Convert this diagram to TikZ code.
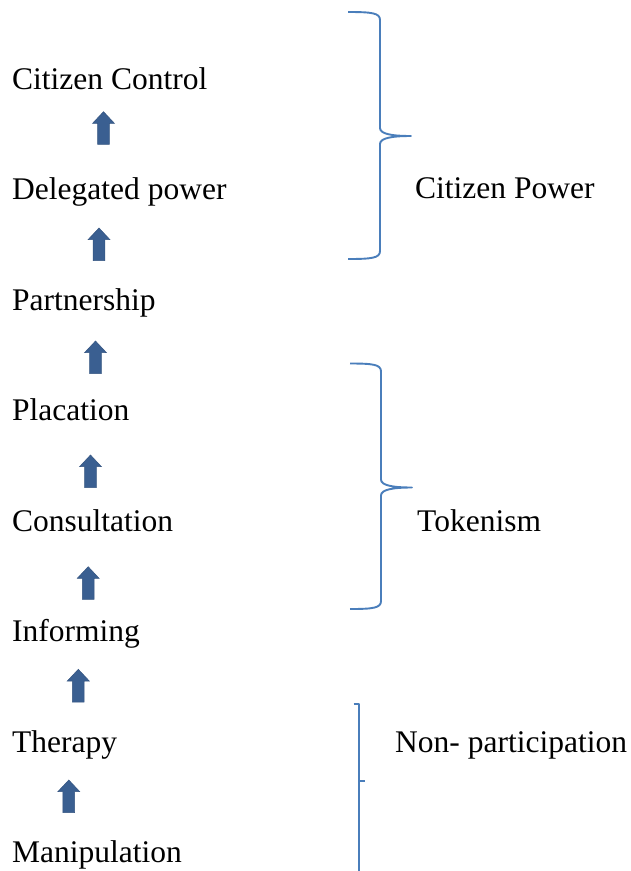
\documentclass[tikz,border=0pt]{standalone}
\usepackage{fontspec}
\setmainfont{Liberation Serif}
\definecolor{bracecol}{RGB}{74,126,187}
\definecolor{arrowfill}{RGB}{58,95,145}
\definecolor{arrowedge}{RGB}{52,84,128}
\begin{document}
\begin{tikzpicture}[x=1pt,y=-1pt,
  rowtext/.style={anchor=base west,inner sep=0pt,font=\fontsize{31.5}{36}\selectfont},
  bracepath/.style={draw=bracecol,line width=1.9pt,line join=round},
  uparrow/.pic={\filldraw[fill=arrowfill,draw=arrowedge,line width=0.5pt]
     (-5.85,0) -- (-5.85,-21) -- (-11,-21) -- (0,-32.7) -- (11,-21) -- (5.85,-21) -- (5.85,0) -- cycle;}
]
\useasboundingbox (0,0) rectangle (631,871);
% rungs
\node[rowtext] (cc) at (12,89) {Citizen Control};
\node[rowtext] (dp) at (12,199.5) {Delegated power};
\node[rowtext] (pa) at (12,310) {Partnership};
\node[rowtext] (pl) at (12,420) {Placation};
\node[rowtext] (co) at (12,531) {Consultation};
\node[rowtext] (in) at (12,641.5) {Informing};
\node[rowtext] (th) at (12,752) {Therapy};
\node[rowtext] (ma) at (12,862.5) {Manipulation};
% arrows (bottom centre positions)
\pic at (103.5,144.4) {uparrow};
\pic at (99,260.7) {uparrow};
\pic at (95.5,373.7) {uparrow};
\pic at (90.5,487.7) {uparrow};
\pic at (88.2,599.4) {uparrow};
\pic at (78.3,702) {uparrow};
\pic at (68.8,812.7) {uparrow};
% braces
\draw[bracepath] (348,12) .. controls (372,12) and (380,13) .. (380,20)
   -- (380,128) .. controls (380,134) and (392,136) .. (411,136)
   .. controls (392,136) and (380,138) .. (380,144)
   -- (380,251) .. controls (380,258) and (372,259) .. (348,259);
\draw[bracepath] (350,363.5) .. controls (373,363.5) and (381,364.5) .. (381,371.5)
   -- (381,479.5) .. controls (381,485.5) and (393,487.5) .. (412,487.5)
   .. controls (393,487.5) and (381,489.5) .. (381,495.5)
   -- (381,601) .. controls (381,608) and (373,609) .. (350,609);
\draw[bracepath] (353.5,704) -- (359,704) -- (359,872);
\draw[bracepath] (359,781) -- (364.5,781);
% group labels
\node[rowtext] (cp) at (415,198.5) {Citizen Power};
\node[rowtext] (tk) at (417,531) {Tokenism};
\node[rowtext] (np) at (395,752) {Non- participation};
\end{tikzpicture}
\end{document}
